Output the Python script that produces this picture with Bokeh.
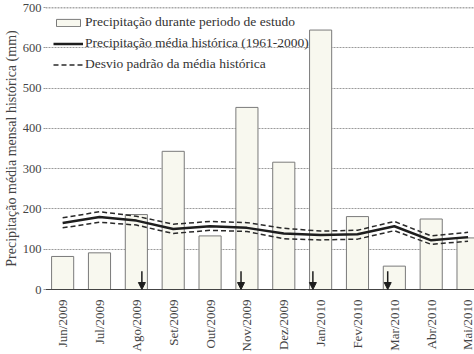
import math
from bokeh.plotting import figure
from bokeh.models import (ColumnDataSource, FixedTicker, Range1d, Arrow, NormalHead,
                          Legend, LegendItem, Span)
from bokeh.embed import file_html
from bokeh.resources import INLINE

# ---- data ----
meses = ["Jun/2009", "Jul/2009", "Ago/2009", "Set/2009", "Out/2009", "Nov/2009",
         "Dez/2009", "Jan/2010", "Fev/2010", "Mar/2010", "Abr/2010", "Mai/2010"]
precip_estudo = [82, 91, 186, 343, 133, 452, 316, 644, 181, 58, 175, 128]
media_hist = [165, 180, 171, 150, 157, 153, 139, 135, 137, 157, 122, 130]
desvio_sup = [178, 193, 182, 162, 169, 166, 152, 145, 147, 169, 133, 142]
desvio_inf = [153, 167, 160, 139, 147, 144, 126, 123, 125, 146, 112, 120]
# sampling dates (position along the month axis) marked with arrows
coletas_x = [2.15, 4.84, 6.79, 8.82]
coletas_topo = [45, 45, 45, 45]
y_ticks = [0, 100, 200, 300, 400, 500, 600, 700]

xs = list(range(len(meses)))
SERIF = "'Liberation Serif', 'Times New Roman', serif"

p = figure(width=474, height=354, output_backend="svg", toolbar_location=None,
           x_range=Range1d(-0.465, 11.175), y_range=Range1d(0, 700),
           min_border_left=42, min_border_right=0, min_border_top=7, min_border_bottom=63)
p.outline_line_color = None
p.background_fill_color = "white"

# grid
p.xgrid.grid_line_color = None
p.ygrid.grid_line_color = "#9a9a9a"
p.ygrid.grid_line_dash = "2 1"
p.ygrid.grid_line_width = 1
p.ygrid.ticker = FixedTicker(ticks=y_ticks)
p.add_layout(Span(location=700, dimension="width", line_color="#555555",
                  line_dash="2 1", line_width=1.5))

src = ColumnDataSource(dict(x=xs, est=precip_estudo, med=media_hist,
                            sup=desvio_sup, inf=desvio_inf))

bars = p.vbar(x="x", top="est", width=0.6, bottom=0, source=src,
              fill_color="#f8f8ef", line_color="#7a7a7a", line_width=1)
med = p.line("x", "med", source=src, line_color="#1e1e1e", line_width=2.5)
sup = p.line("x", "sup", source=src, line_color="#2a2a2a", line_width=1.5, line_dash="5 3")
p.line("x", "inf", source=src, line_color="#2a2a2a", line_width=1.5, line_dash="5 3")

asrc = ColumnDataSource(dict(x0=coletas_x, y0=coletas_topo, x1=coletas_x,
                             y1=[0] * len(coletas_x)))
p.add_layout(Arrow(end=NormalHead(size=7, fill_color="#1e1e1e", line_color="#1e1e1e"),
                   x_start="x0", y_start="y0", x_end="x1", y_end="y1", source=asrc,
                   line_color="#1e1e1e", line_width=1.5))

# axes
p.xaxis.ticker = FixedTicker(ticks=xs)
p.xaxis.major_label_overrides = {i: m for i, m in enumerate(meses)}
p.xaxis.major_label_orientation = math.pi / 2
p.xaxis.major_label_text_font = SERIF
p.xaxis.major_label_text_font_size = "13px"
p.xaxis.major_label_text_color = "#444444"
p.xaxis.major_tick_line_color = None
p.xaxis.minor_tick_line_color = None
p.xaxis.axis_line_color = "#444444"
p.xaxis.axis_line_width = 1.2
p.xaxis.major_label_standoff = 4

p.yaxis.ticker = FixedTicker(ticks=y_ticks)
p.yaxis.axis_line_color = None
p.yaxis.major_tick_line_color = "#9a9a9a"
p.yaxis.major_tick_in = 0
p.yaxis.major_tick_out = 2
p.yaxis.minor_tick_line_color = None
p.yaxis.major_label_text_font = SERIF
p.yaxis.major_label_text_font_size = "12.5px"
p.yaxis.major_label_text_color = "#444444"
p.yaxis.major_label_standoff = 2
p.yaxis.axis_label = "Precipitação média mensal histórica (mm)"
p.yaxis.axis_label_text_font = SERIF
p.yaxis.axis_label_text_font_style = "normal"
p.yaxis.axis_label_text_font_size = "14px"
p.yaxis.axis_label_text_color = "#444444"
p.yaxis.axis_label_standoff = 1

legend = Legend(items=[
    LegendItem(label="Precipitação durante periodo de estudo", renderers=[bars]),
    LegendItem(label="Precipitação média histórica (1961-2000)", renderers=[med]),
    LegendItem(label="Desvio padrão da média histórica", renderers=[sup]),
], location=(8, 216))
legend.background_fill_alpha = 0
legend.border_line_color = None
legend.padding = 4
legend.margin = 0
legend.spacing = 3
legend.glyph_width = 30
legend.glyph_height = 9
legend.label_height = 18
legend.label_standoff = 2
legend.label_text_font = SERIF
legend.label_text_font_size = "13.5px"
legend.label_text_color = "#333333"
p.add_layout(legend)

open("out.html", "w").write(file_html(p, INLINE))
